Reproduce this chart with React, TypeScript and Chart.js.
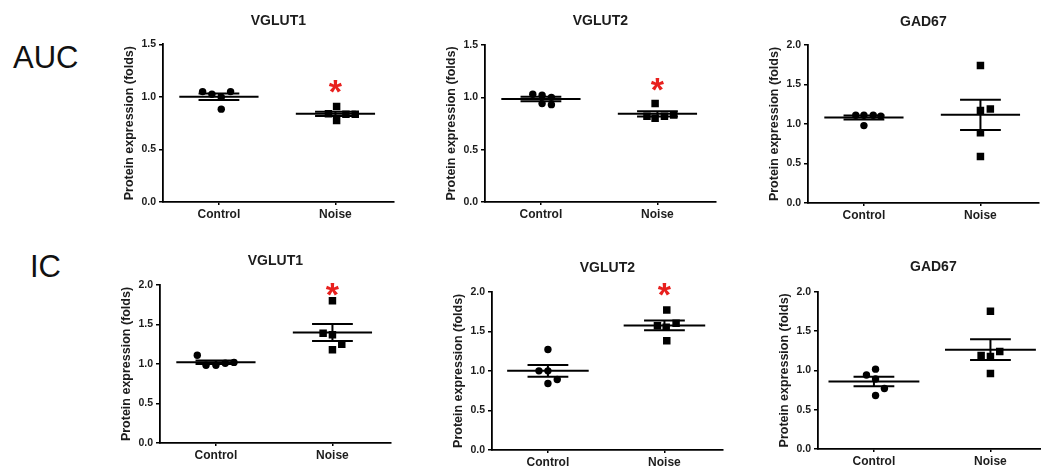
import React, { useEffect, useRef } from "react";
import { Chart, registerables } from "chart.js";

Chart.register(...registerables);

// ---------- data ----------
const groups = ["Control", "Noise"];
const rowLabels = ["AUC", "IC"];
const panelTitles = ["VGLUT1", "VGLUT2", "GAD67", "VGLUT1", "VGLUT2", "GAD67"];
const yAxisTitle = "Protein expression (folds)";
const yMaxima = [1.5, 1.5, 2.0, 2.0, 2.0, 2.0];

// AUC
const aucVglut1Control = [1.05, 1.025, 0.997, 1.05, 0.883];
const aucVglut1ControlJitter = [-0.14, -0.06, 0.02, 0.1, 0.02];
const aucVglut1Noise = [0.908, 0.839, 0.775, 0.835, 0.835];
const aucVglut1NoiseJitter = [0.01, -0.06, 0.01, 0.09, 0.17];

const aucVglut2Control = [1.03, 1.02, 0.94, 0.93, 1.0];
const aucVglut2ControlJitter = [-0.07, 0.01, 0.01, 0.09, 0.09];
const aucVglut2Noise = [0.94, 0.82, 0.8, 0.82, 0.83];
const aucVglut2NoiseJitter = [-0.02, -0.09, -0.02, 0.06, 0.14];

const aucGad67Control = [1.11, 1.11, 1.11, 0.98, 1.1];
const aucGad67ControlJitter = [-0.07, 0.0, 0.08, 0.0, 0.145];
const aucGad67Noise = [1.74, 1.17, 1.19, 0.89, 0.59];
const aucGad67NoiseJitter = [0.0, 0.0, 0.085, 0.0, 0.0];

// IC
const icVglut1Control = [1.11, 0.985, 0.985, 1.01, 1.02];
const icVglut1ControlJitter = [-0.16, -0.085, 0.0, 0.08, 0.155];
const icVglut1Noise = [1.8, 1.39, 1.37, 1.25, 1.18];
const icVglut1NoiseJitter = [0.0, -0.08, 0.0, 0.08, 0.0];

const icVglut2Control = [1.27, 1.0, 1.0, 0.89, 0.84];
const icVglut2ControlJitter = [0.0, -0.077, 0.0, 0.08, 0.0];
const icVglut2Noise = [1.77, 1.57, 1.55, 1.6, 1.38];
const icVglut2NoiseJitter = [0.02, -0.06, 0.015, 0.1, 0.02];

const icGad67Control = [0.94, 1.015, 0.89, 0.77, 0.68];
const icGad67ControlJitter = [-0.064, 0.014, 0.014, 0.09, 0.014];
const icGad67Noise = [1.75, 1.19, 1.175, 1.24, 0.96];
const icGad67NoiseJitter = [0.0, -0.08, 0.0, 0.08, 0.0];

// significance asterisk height (value) above Noise, null = none
const asteriskValues = [1.13, 1.15, null, 1.98, 2.07, null];

const controlSeries = [aucVglut1Control, aucVglut2Control, aucGad67Control, icVglut1Control, icVglut2Control, icGad67Control];
const controlJitters = [aucVglut1ControlJitter, aucVglut2ControlJitter, aucGad67ControlJitter, icVglut1ControlJitter, icVglut2ControlJitter, icGad67ControlJitter];
const noiseSeries = [aucVglut1Noise, aucVglut2Noise, aucGad67Noise, icVglut1Noise, icVglut2Noise, icGad67Noise];
const noiseJitters = [aucVglut1NoiseJitter, aucVglut2NoiseJitter, aucGad67NoiseJitter, icVglut1NoiseJitter, icVglut2NoiseJitter, icGad67NoiseJitter];

// ---------- layout (pixels) ----------
const layouts = [
  { axisX: 163, titleY: 21, top: 44.3, bottom: 202.3, meanHalf: 0.34 },
  { axisX: 485, titleY: 21, top: 45, bottom: 202.3, meanHalf: 0.34 },
  { axisX: 808, titleY: 22, top: 45, bottom: 203.3, meanHalf: 0.34 },
  { axisX: 160, titleY: 261, top: 285, bottom: 443.3, meanHalf: 0.34 },
  { axisX: 492, titleY: 268, top: 291.7, bottom: 450, meanHalf: 0.35 },
  { axisX: 818, titleY: 267.5, top: 291.7, bottom: 449.3, meanHalf: 0.39 },
];
const rowLabelPos = [
  { left: 13, top: 42 },
  { left: 30, top: 251 },
];
const Y_W = 44;
const X_H = 28;
const PLOT_W = 236;
const X_MIN = 0.52;
const X_MAX = 2.5;
const SEM_HALF = 0.175;
const FONT = '"Liberation Sans", Arial, sans-serif';
const TEXT = "#1c1c1c";

const mean = (a: number[]) => a.reduce((s, v) => s + v, 0) / a.length;
const sem = (a: number[]) => {
  const m = mean(a);
  const v = a.reduce((s, x) => s + (x - m) * (x - m), 0) / (a.length - 1);
  return Math.sqrt(v / a.length);
};

const asteriskPlugin = {
  id: "asterisk",
  afterDatasetsDraw(chart: any, _args: any, opts: any) {
    if (opts == null || opts.value == null) return;
    const { ctx } = chart;
    const x = chart.scales.x;
    const y = chart.scales.y;
    const px = x.getPixelForValue(2);
    const py = y.getPixelForValue(opts.value);
    const size = 34;
    ctx.save();
    ctx.fillStyle = "#e8201e";
    ctx.font = `bold ${size}px ${FONT}`;
    ctx.textAlign = "center";
    ctx.textBaseline = "alphabetic";
    ctx.fillText("*", px, py + 0.58 * size);
    ctx.restore();
  },
};

function seg(x1: number, y1: number, x2: number, y2: number) {
  return {
    data: [
      { x: x1, y: y1 },
      { x: x2, y: y2 },
    ],
    showLine: true,
    borderColor: "#000",
    borderWidth: 2,
    pointRadius: 0,
    fill: false,
  };
}

function Panel({ idx }: { idx: number }) {
  const ref = useRef<HTMLCanvasElement | null>(null);
  const L = layouts[idx];
  const canvasLeft = L.axisX - Y_W;
  const canvasTop = Math.round(L.titleY - 12);
  const width = Y_W + PLOT_W;
  const height = Math.round(L.bottom - canvasTop + X_H);
  const titleLH = 14 * 1.2;
  const padTop = L.titleY - canvasTop - titleLH / 2;
  const padBottom = L.top - canvasTop - padTop - titleLH;

  useEffect(() => {
    if (!ref.current) return;
    const ctrl = controlSeries[idx];
    const noise = noiseSeries[idx];
    const datasets: any[] = [];
    [ctrl, noise].forEach((vals, g) => {
      const c = g + 1;
      const m = mean(vals);
      const e = sem(vals);
      datasets.push(seg(c - L.meanHalf, m, c + L.meanHalf, m));
      datasets.push(seg(c - SEM_HALF, m + e, c + SEM_HALF, m + e));
      datasets.push(seg(c - SEM_HALF, m - e, c + SEM_HALF, m - e));
      datasets.push(seg(c, m - e, c, m + e));
    });
    datasets.push({
      data: ctrl.map((v, i) => ({ x: 1 + controlJitters[idx][i], y: v })),
      pointStyle: "circle",
      pointRadius: 3.7,
      backgroundColor: "#000",
      borderColor: "#000",
      borderWidth: 0,
    });
    datasets.push({
      data: noise.map((v, i) => ({ x: 2 + noiseJitters[idx][i], y: v })),
      pointStyle: "rect",
      pointRadius: 5.3,
      backgroundColor: "#000",
      borderColor: "#000",
      borderWidth: 0,
    });

    const tickFont = { family: FONT, size: 10.5, weight: "bold" as const };
    const chart = new Chart(ref.current, {
      type: "scatter",
      data: { datasets },
      plugins: [asteriskPlugin],
      options: {
        animation: false,
        responsive: false,
        devicePixelRatio: 1,
        layout: { padding: 0 },
        plugins: {
          legend: { display: false },
          tooltip: { enabled: false },
          title: {
            display: true,
            text: panelTitles[idx],
            fullSize: false,
            color: TEXT,
            font: { family: FONT, size: 14, weight: "bold" },
            padding: { top: padTop, bottom: padBottom },
          },
          // @ts-ignore
          asterisk: { value: asteriskValues[idx] },
        },
        scales: {
          x: {
            type: "linear",
            min: X_MIN,
            max: X_MAX,
            afterBuildTicks: (s: any) => {
              s.ticks = [{ value: 1 }, { value: 2 }];
            },
            afterFit: (s: any) => {
              s.height = X_H;
            },
            ticks: {
              autoSkip: false,
              maxRotation: 0,
              padding: 2,
              color: TEXT,
              font: { family: FONT, size: 12, weight: "bold" },
              callback: (v: any) => groups[Math.round(Number(v)) - 1] ?? "",
            },
            grid: { drawOnChartArea: false, drawTicks: true, tickLength: 3, color: "#000", lineWidth: 1.5 },
            border: { display: true, color: "#000", width: 1.8 },
          },
          y: {
            type: "linear",
            min: 0,
            max: yMaxima[idx],
            afterFit: (s: any) => {
              s.width = Y_W;
            },
            ticks: {
              stepSize: 0.5,
              padding: 3,
              color: TEXT,
              font: tickFont,
              callback: (v: any) => Number(v).toFixed(1),
            },
            grid: { drawOnChartArea: false, drawTicks: true, tickLength: 4, color: "#000", lineWidth: 1.5 },
            border: { display: true, color: "#000", width: 1.8 },
            title: {
              display: true,
              text: yAxisTitle,
              color: TEXT,
              font: { family: FONT, size: 12.5, weight: "bold" },
              padding: { top: 3.5, bottom: 0 },
            },
          },
        },
      } as any,
    });
    return () => chart.destroy();
  }, [idx]);

  return (
    <canvas
      ref={ref}
      width={width}
      height={height}
      style={{ position: "absolute", left: canvasLeft, top: canvasTop, width, height }}
    />
  );
}

export default function App() {
  return (
    <div
      style={{
        position: "fixed",
        left: 0,
        top: 0,
        width: 1041,
        height: 471,
        background: "#fff",
        overflow: "hidden",
      }}
    >
      {rowLabels.map((t, i) => (
        <div
          key={t}
          style={{
            position: "absolute",
            left: rowLabelPos[i].left,
            top: rowLabelPos[i].top,
            fontFamily: FONT,
            fontSize: 31,
            lineHeight: "31px",
            color: "#111",
          }}
        >
          {t}
        </div>
      ))}
      {layouts.map((_, i) => (
        <Panel key={i} idx={i} />
      ))}
    </div>
  );
}
